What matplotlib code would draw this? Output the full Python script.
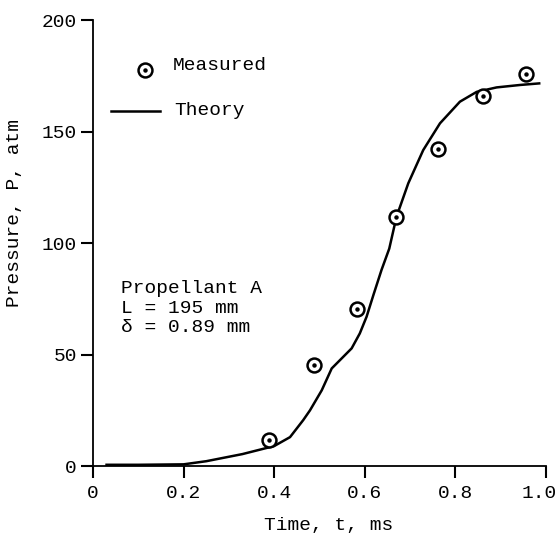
import matplotlib.pyplot as plt
import matplotlib.transforms as mtransforms

# Measured points
t_meas = [0.389, 0.489, 0.582, 0.669, 0.762, 0.860, 0.956]
p_meas = [11.7, 45.3, 70.3, 111.5, 142.0, 166.0, 176.0]

# Theory curve, traced
t_theory = [0.03, 0.10, 0.20, 0.25, 0.30, 0.33, 0.40, 0.435, 0.464, 0.479, 0.505,
            0.527, 0.550, 0.571, 0.589, 0.604, 0.619, 0.637, 0.654, 0.670, 0.696,
            0.729, 0.766, 0.810, 0.847, 0.891, 0.943, 0.985]
p_theory = [0.6, 0.6, 0.8, 2.2, 4.2, 5.4, 9.0, 13.0, 20.6, 25.0, 34.0,
            43.8, 48.5, 52.8, 59.5, 67.0, 76.7, 88.0, 97.5, 111.8, 126.8,
            141.7, 153.7, 163.4, 167.8, 169.8, 170.9, 171.6]

x_ticks = [0, 0.2, 0.4, 0.6, 0.8, 1.0]
x_labels = ["0", "0.2", "0.4", "0.6", "0.8", "1.0"]
y_ticks = [0, 50, 100, 150, 200]

plt.rcParams['font.family'] = "Liberation Mono"
fs = 14

fig = plt.figure(figsize=(5.6, 5.42), dpi=100)
ax = fig.add_axes([0.166, 0.140, 0.809, 0.823])

ax.plot(t_theory, p_theory, color="black", linewidth=1.8)
ax.plot(t_meas, p_meas, linestyle="none", marker="o", markersize=10,
        markerfacecolor="white", markeredgecolor="black", markeredgewidth=1.8)
ax.plot(t_meas, p_meas, linestyle="none", marker="o", markersize=2.2, color="black")

# legend drawn by hand like the original
ax.plot([0.115], [177.6], linestyle="none", marker="o", markersize=10,
        markerfacecolor="white", markeredgecolor="black", markeredgewidth=1.8)
ax.plot([0.115], [177.6], linestyle="none", marker="o", markersize=2.2, color="black")
ax.text(0.177, 179.5, "Measured", fontsize=fs, va="center")
ax.plot([0.04, 0.148], [159, 159], color="black", linewidth=1.8)
ax.text(0.180, 159.5, "Theory", fontsize=fs, va="center")

ax.text(0.062, 70.8, "Propellant A\nL = 195 mm\n\u03b4 = 0.89 mm", fontsize=fs,
        va="center", ha="left", linespacing=1.2)

ax.set_xlim(0, 1.0)
ax.set_ylim(0, 200)
ax.set_xticks(x_ticks)
ax.set_xticklabels(x_labels)
ax.set_yticks(y_ticks)
ax.tick_params(direction="out", length=8.5, width=1.5, labelsize=fs)
ax.tick_params(axis="y", pad=3)
ax.tick_params(axis="x", pad=5)
for s in ["top", "right"]:
    ax.spines[s].set_visible(False)
for s in ["left", "bottom"]:
    ax.spines[s].set_linewidth(1.3)

# nudge the last x label so it stays inside the picture
last = ax.get_xticklabels()[-1]
last.set_transform(last.get_transform() + mtransforms.ScaledTranslation(-0.07, 0, fig.dpi_scale_trans))

ax.set_xlabel("Time, t, ms", fontsize=fs)
ax.xaxis.set_label_coords(0.52, -0.115)
ax.set_ylabel("Pressure, P, atm", fontsize=fs)
ax.yaxis.set_label_coords(-0.155, 0.567)

fig.savefig("out.png", dpi=100)
